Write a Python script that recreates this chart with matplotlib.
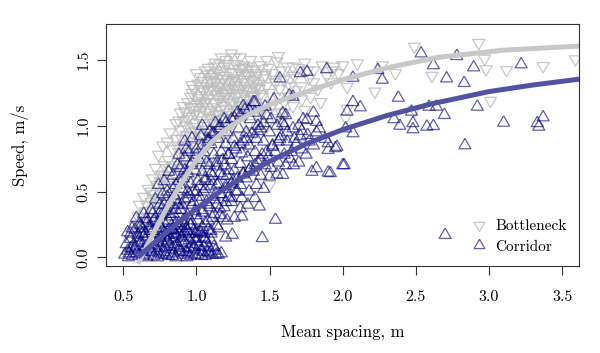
import matplotlib
matplotlib.use("Agg")
import matplotlib.pyplot as plt
from matplotlib.lines import Line2D

plt.rcParams["font.family"] = ["cmr10", "DejaVu Serif"]
plt.rcParams["mathtext.fontset"] = "cm"
plt.rcParams["axes.formatter.use_mathtext"] = True

# ---- Bottleneck (grey, downward triangles) ----
bottleneck_x = [
    0.58, 0.60, 0.61, 0.63, 0.64, 0.65,
    0.67, 0.68, 0.69, 0.70, 0.71, 0.72, 0.70,
    0.73, 0.74, 0.75, 0.76, 0.77, 0.78, 0.78,
    0.79, 0.80, 0.81, 0.82, 0.83, 0.83, 0.84,
    0.85, 0.86, 0.86, 0.87, 0.88, 0.88, 0.89, 0.89,
    0.90, 0.91, 0.91, 0.92, 0.92, 0.93, 0.94, 0.94, 0.93,
    0.95, 0.95, 0.96, 0.96, 0.97, 0.97, 0.98, 0.98, 0.99, 0.99,
    1.00, 1.00, 1.01, 1.01, 1.02, 1.02, 1.03, 1.03, 1.04, 1.04, 1.03,
    1.05, 1.05, 1.06, 1.06, 1.07, 1.07, 1.08, 1.08, 1.09, 1.09, 1.08, 1.06,
    1.10, 1.10, 1.11, 1.11, 1.12, 1.12, 1.13, 1.13, 1.14, 1.14, 1.12, 1.11, 1.13,
    1.15, 1.15, 1.16, 1.16, 1.17, 1.17, 1.18, 1.18, 1.19, 1.19, 1.16, 1.18, 1.17,
    1.20, 1.20, 1.21, 1.21, 1.22, 1.22, 1.23, 1.23, 1.24, 1.24, 1.21, 1.23,
    1.25, 1.25, 1.26, 1.26, 1.27, 1.27, 1.28, 1.28, 1.29, 1.29,
    1.30, 1.30, 1.31, 1.31, 1.32, 1.32, 1.33, 1.33, 1.34, 1.34,
    1.35, 1.36, 1.36, 1.37, 1.38, 1.38, 1.39, 1.37,
    1.40, 1.41, 1.42, 1.43, 1.44, 1.45, 1.46, 1.47, 1.48, 1.49,
    1.50, 1.52, 1.54, 1.55, 1.57, 1.58, 1.60, 1.62, 1.64, 1.63,
    1.67, 1.70, 1.72, 1.74, 1.77, 1.80, 1.83, 1.86, 1.89, 1.92, 1.94, 1.97, 1.78, 1.85, 1.66, 1.93,
    1.20, 1.25, 1.30, 1.35, 1.40, 1.15, 1.45, 1.10, 1.05, 1.00, 0.95,
    0.78, 0.85, 0.92, 0.88, 1.50,
    # blob centre
    0.97, 1.00, 1.03, 1.06, 1.09, 1.12, 1.15, 1.18, 1.21, 1.24, 1.27, 1.30, 1.33, 1.36, 1.39, 1.42,
    0.98, 1.01, 1.04, 1.07, 1.10, 1.13, 1.16, 1.19, 1.22, 1.25, 1.28, 1.31, 1.34, 1.37, 1.40, 1.43,
    0.96, 0.99, 1.02, 1.05, 1.08, 1.11, 1.14, 1.17, 1.20, 1.23, 1.26, 1.29, 1.32, 1.35, 1.38, 1.41, 1.44,
    0.88, 0.91, 0.94, 0.97, 1.00, 1.04, 1.08, 1.12, 1.16, 1.20, 1.26, 1.32, 1.40, 1.48, 1.56,
    0.63, 0.66, 0.69, 0.72, 0.75, 0.78, 0.81, 0.84, 0.87, 0.90, 0.93, 0.96, 0.99, 1.02, 1.05, 1.08,
    1.52, 1.56, 1.60, 1.64, 1.68, 1.72, 1.76, 1.80, 1.53, 1.58, 1.66, 1.74,
    1.36, 1.42, 1.48, 1.54, 1.60, 1.38, 1.46, 1.52, 1.58,
    # sparse right region
    2.00, 2.03, 2.03, 2.02, 2.10, 2.22, 2.27, 2.36, 2.49, 2.49, 2.61,
    2.93, 2.97, 2.98, 3.01, 3.12, 3.37, 3.59,
]
bottleneck_y = [
    0.24, 0.31, 0.40, 0.27, 0.46, 0.35,
    0.52, 0.30, 0.42, 0.60, 0.48, 0.68, 0.36,
    0.55, 0.78, 0.44, 0.63, 0.85, 0.52, 0.70,
    0.60, 0.88, 0.74, 0.95, 0.55, 0.66, 0.82,
    0.62, 0.90, 1.02, 0.72, 0.80, 0.58, 0.97, 1.10,
    0.68, 0.85, 1.04, 1.11, 0.76, 0.93, 1.18, 0.62, 1.00,
    0.80, 1.07, 1.22, 0.70, 0.95, 1.14, 0.88, 1.28, 1.02, 0.75,
    1.16, 0.84, 1.32, 0.97, 1.08, 1.23, 0.78, 1.37, 0.92, 1.19, 1.04,
    1.26, 1.00, 1.42, 0.86, 1.12, 1.30, 0.95, 1.21, 1.35, 1.06, 1.44, 1.17,
    1.10, 1.28, 0.90, 1.40, 1.18, 1.02, 1.33, 1.48, 1.24, 0.97, 1.37, 1.14, 1.08,
    1.20, 1.42, 1.05, 1.30, 1.52, 0.93, 1.15, 1.36, 1.26, 1.45, 1.12, 1.00, 1.33,
    1.22, 1.38, 1.08, 1.47, 1.29, 0.98, 1.17, 1.41, 1.33, 1.55, 1.25, 1.10,
    1.18, 1.40, 1.28, 1.05, 1.47, 1.22, 1.35, 1.12, 1.43, 1.25,
    1.30, 1.52, 1.15, 1.38, 1.24, 1.44, 1.08, 1.33, 1.20, 1.40,
    1.27, 1.45, 1.12, 1.35, 1.22, 1.42, 1.30, 1.50,
    1.38, 1.18, 1.40, 1.28, 1.46, 1.22, 1.36, 1.385, 1.30, 1.44,
    1.25, 1.40, 1.33, 1.49, 1.28, 1.42, 1.35, 1.45, 1.30, 1.22,
    1.38, 1.44, 1.30, 1.48, 1.36, 1.42, 1.28, 1.46, 1.38, 1.33, 1.45, 1.40, 1.22, 1.18, 1.15, 1.42,
    0.88, 0.80, 0.92, 0.85, 0.95, 0.75, 1.02, 0.72, 0.70, 0.65, 0.58,
    0.35, 0.45, 0.50, 0.38, 0.55,
    1.25, 1.12, 1.30, 1.18, 1.02, 1.27, 1.09, 1.24, 1.35, 1.05, 1.31, 1.19, 1.28, 1.16, 1.23, 1.32,
    0.99, 1.21, 1.14, 0.97, 1.34, 1.17, 1.38, 1.06, 1.20, 1.34, 1.09, 1.44, 1.15, 1.26, 1.34, 1.12,
    1.14, 1.09, 1.17, 1.34, 1.27, 1.05, 1.29, 1.22, 1.13, 1.27, 1.36, 1.16, 1.35, 1.39, 1.17, 1.29, 1.24,
    1.04, 1.15, 1.05, 1.31, 1.40, 1.28, 1.39, 1.45, 1.47, 1.50, 1.52, 1.46, 1.43, 1.50, 1.53,
    0.30, 0.40, 0.50, 0.45, 0.58, 0.62, 0.68, 0.70, 0.85, 0.90, 0.84, 0.92, 0.96, 0.88, 0.92, 0.86,
    1.15, 1.22, 1.18, 1.36, 1.27, 1.20, 1.42, 1.33, 1.35, 1.10, 1.45, 1.12,
    1.02, 1.08, 1.00, 1.06, 1.10, 0.96, 1.12, 1.17, 1.04,
    1.46, 1.297, 1.13, 1.06, 1.475, 1.26, 1.46, 1.40, 1.60, 1.12, 1.38,
    1.63, 1.51, 1.43, 1.19, 1.424, 1.454, 1.505,
]

# ---- Corridor (blue, upward triangles) ----
corridor_x = [
    # dense bottom band
    0.51, 0.56, 0.61, 0.66, 0.71, 0.76, 0.81, 0.86, 0.91, 0.96, 1.01, 1.06, 1.11, 1.15,
    0.53, 0.58, 0.63, 0.68, 0.73, 0.78, 0.83, 0.88, 0.93, 0.98, 1.03, 1.08, 1.13,
    0.52, 0.57, 0.62, 0.67, 0.72, 0.77, 0.82, 0.87, 0.92, 0.97, 1.02, 1.07, 1.12,
    0.55, 0.60, 0.65, 0.70, 0.75, 0.80, 0.85, 0.90, 0.95, 1.00, 1.05, 1.10,
    0.54, 0.59, 0.64, 0.69, 0.74, 0.79, 0.84, 0.89, 0.94, 0.99, 1.04, 1.09,
    0.55, 0.65, 0.75, 0.85, 0.95, 1.05, 0.60, 0.70, 0.80, 0.90, 1.00,
    0.53, 0.58, 0.63, 0.68, 0.73, 0.78, 0.83, 0.88, 0.93, 0.98, 1.03, 1.08,
    0.535, 0.585, 0.635, 0.685, 0.735, 0.785, 0.835, 0.885, 0.935, 0.985, 1.035, 1.085, 1.135, 1.17,
    0.74, 0.78, 0.82, 0.86, 0.90, 0.94, 0.98, 1.02, 1.06, 1.10, 1.14, 1.18,
    # rising wedge
    0.55, 0.56,
    0.60, 0.61, 0.59,
    0.65, 0.66, 0.64, 0.63,
    0.70, 0.71, 0.69, 0.72, 0.68,
    0.75, 0.74, 0.76, 0.75, 0.77, 0.74,
    0.80, 0.81, 0.79, 0.82, 0.80, 0.78, 0.81, 0.83,
    0.85, 0.86, 0.84, 0.87, 0.85, 0.86, 0.84, 0.87, 0.88,
    0.90, 0.91, 0.89, 0.92, 0.90, 0.91, 0.89, 0.92, 0.93, 0.92,
    0.95, 0.96, 0.94, 0.97, 0.95, 0.96, 0.94, 0.97, 0.95, 0.97,
    1.00, 1.01, 0.99, 1.02, 1.00, 1.01, 0.99, 1.02, 1.00, 1.03, 1.04,
    1.05, 1.06, 1.04, 1.07, 1.05, 1.06, 1.04, 1.07, 1.05, 1.08, 1.11,
    1.10, 1.11, 1.09, 1.12, 1.10, 1.11, 1.09, 1.12, 1.10, 1.09, 1.13,
    1.15, 1.16, 1.14, 1.17, 1.15, 1.16, 1.14, 1.17, 1.15, 1.16,
    1.20, 1.21, 1.19, 1.22, 1.20, 1.21, 1.19, 1.22, 1.20, 1.21, 1.19,
    1.245, 1.26, 1.24, 1.27, 1.25, 1.26, 1.24, 1.27, 1.25, 1.26, 1.29,
    1.31, 1.30, 1.31, 1.30, 1.32, 1.30, 1.31, 1.32, 1.30, 1.33,
    1.35, 1.36, 1.34, 1.37, 1.35, 1.36, 1.34, 1.37, 1.39,
    1.40, 1.41, 1.39, 1.42, 1.40, 1.41, 1.42, 1.40,
    1.45, 1.43, 1.46, 1.44, 1.47, 1.45, 1.46, 1.44, 1.48, 1.47,
    1.50, 1.51, 1.49, 1.52, 1.50, 1.51, 1.53,
    1.54, 1.55, 1.56, 1.54, 1.57, 1.55, 1.59, 1.57,
    1.59, 1.61, 1.60, 1.62, 1.60, 1.59, 1.61,
    1.665, 1.65, 1.67, 1.66, 1.635,
    1.70, 1.72, 1.71, 1.73, 1.71,
    1.75, 1.77, 1.756, 1.756,
    1.79, 1.82, 1.80, 1.82, 1.82,
    1.90, 1.90, 1.90, 1.89, 1.88,
    0.72, 0.76, 0.80, 0.84, 0.88, 0.92, 0.96, 1.00, 1.04, 1.08, 1.12, 1.16, 1.20, 1.24, 1.28, 1.32, 1.36, 1.40,
    0.78, 0.82, 0.86, 0.90, 0.94, 0.98, 1.02, 1.06, 1.10, 1.14, 1.18, 1.22, 1.26, 1.30, 1.34, 1.38, 1.42, 1.46,
    0.88, 0.92, 0.96, 1.00, 1.04, 1.08, 1.12, 1.16, 1.20, 1.24, 1.28, 1.32, 1.36, 1.40, 1.44, 1.48, 1.52, 1.56,
    0.62, 0.66, 0.70, 0.74, 0.78, 0.82, 0.86, 0.90, 0.94, 0.98, 1.02, 1.06, 1.10, 1.14, 1.18, 1.22,
    0.64, 0.68, 0.72, 0.76, 0.80, 0.84, 0.88, 0.92, 0.96, 1.00, 1.04, 1.08, 1.12, 1.16, 1.20, 1.24, 1.28,
    1.58, 1.62, 1.66, 1.70, 1.64, 1.68, 1.72, 1.76, 1.80, 1.84,
    1.96, 2.00, 1.95, 1.915, 2.01, 2.02, 2.03, 2.07, 2.07, 2.07, 2.12,
    # sparse right region
    2.536, 2.78, 2.62, 2.895, 3.22, 2.24, 2.27, 2.71, 2.83,
    2.38, 2.47, 2.59, 2.64, 2.695, 2.92, 2.35, 2.39, 2.48, 2.48,
    2.575, 2.62, 3.10, 3.33, 3.37, 3.34, 2.835, 2.70,
]
corridor_y = [
    0.02, 0.01, 0.02, 0.00, 0.01, 0.02, 0.01, 0.00, 0.02, 0.01, 0.02, 0.01, 0.02, 0.02,
    0.05, 0.06, 0.04, 0.06, 0.05, 0.04, 0.06, 0.05, 0.04, 0.06, 0.05, 0.04, 0.05,
    0.10, 0.09, 0.11, 0.10, 0.09, 0.11, 0.10, 0.09, 0.11, 0.10, 0.09, 0.11, 0.08,
    0.14, 0.15, 0.13, 0.14, 0.15, 0.13, 0.14, 0.15, 0.13, 0.14, 0.15, 0.13,
    0.03, 0.03, 0.02, 0.04, 0.03, 0.02, 0.03, 0.04, 0.03, 0.02, 0.04, 0.03,
    0.07, 0.08, 0.07, 0.08, 0.07, 0.08, 0.12, 0.12, 0.12, 0.12, 0.12,
    0.19, 0.21, 0.18, 0.22, 0.20, 0.19, 0.21, 0.18, 0.22, 0.20, 0.19, 0.21,
    0.00, 0.08, 0.01, 0.07, 0.00, 0.08, 0.01, 0.07, 0.00, 0.08, 0.01, 0.07, 0.02, 0.03,
    0.12, 0.16, 0.15, 0.17, 0.16, 0.20, 0.15, 0.19, 0.14, 0.18, 0.24, 0.30,
    0.18, 0.22,
    0.17, 0.25, 0.30,
    0.18, 0.26, 0.33, 0.22,
    0.20, 0.28, 0.36, 0.44, 0.24,
    0.18, 0.25, 0.32, 0.40, 0.48, 0.55,
    0.20, 0.28, 0.35, 0.42, 0.50, 0.58, 0.65, 0.24,
    0.18, 0.26, 0.33, 0.40, 0.47, 0.55, 0.62, 0.70, 0.78,
    0.20, 0.28, 0.36, 0.44, 0.52, 0.60, 0.68, 0.76, 0.82, 0.88,
    0.18, 0.25, 0.32, 0.40, 0.48, 0.56, 0.64, 0.72, 0.80, 0.905,
    0.20, 0.28, 0.35, 0.42, 0.50, 0.58, 0.66, 0.74, 0.82, 0.92, 1.00,
    0.18, 0.26, 0.34, 0.42, 0.50, 0.58, 0.65, 0.72, 0.80, 0.88, 0.94,
    0.20, 0.30, 0.38, 0.46, 0.54, 0.62, 0.70, 0.78, 0.86, 0.955, 1.02,
    0.22, 0.32, 0.40, 0.48, 0.56, 0.64, 0.72, 0.80, 0.90, 1.00,
    0.15, 0.28, 0.38, 0.46, 0.54, 0.62, 0.70, 0.78, 0.86, 0.95, 1.05,
    0.171, 0.30, 0.42, 0.50, 0.58, 0.66, 0.74, 0.82, 0.90, 1.06, 0.98,
    0.31, 0.373, 0.45, 0.55, 0.63, 0.71, 0.79, 0.88, 1.08, 1.12,
    0.40, 0.50, 0.60, 0.68, 0.76, 0.85, 0.95, 1.05, 1.18,
    0.45, 0.55, 0.65, 0.72, 0.80, 0.90, 1.00, 1.10,
    0.146, 0.386, 0.52, 0.62, 0.70, 0.78, 0.88, 0.98, 1.08, 1.145,
    0.614, 0.68, 0.76, 0.85, 0.95, 1.05, 1.20,
    0.285, 0.63, 0.72, 0.80, 0.90, 1.00, 1.095, 1.36,
    0.626, 0.70, 0.78, 0.88, 1.00, 1.02, 1.08,
    0.70, 0.80, 0.90, 1.22, 1.23,
    0.72, 0.82, 0.92, 1.05, 1.40,
    0.78, 0.88, 1.044, 1.41,
    0.65, 0.677, 0.85, 0.95, 1.03,
    0.644, 0.816, 0.867, 1.43, 0.90,
    0.30, 0.36, 0.46, 0.52, 0.58, 0.66, 0.70, 0.78, 0.85, 0.90, 0.94, 0.98, 1.02, 1.05, 1.10, 1.15, 1.12, 1.18,
    0.26, 0.31, 0.36, 0.40, 0.45, 0.50, 0.54, 0.60, 0.64, 0.69, 0.74, 0.78, 0.84, 0.86, 0.90, 0.94, 0.96, 1.02,
    0.22, 0.24, 0.28, 0.32, 0.36, 0.40, 0.44, 0.48, 0.52, 0.56, 0.60, 0.64, 0.66, 0.70, 0.74, 0.80, 0.84, 0.88,
    0.24, 0.29, 0.33, 0.27, 0.40, 0.33, 0.44, 0.36, 0.50, 0.42, 0.46, 0.52, 0.58, 0.55, 0.62, 0.66,
    0.16, 0.20, 0.18, 0.22, 0.17, 0.21, 0.26, 0.19, 0.24, 0.18, 0.23, 0.28, 0.33, 0.37, 0.42, 0.45, 0.50,
    0.92, 0.95, 0.98, 1.00, 0.75, 0.86, 0.96, 0.93, 1.10, 0.98,
    0.84, 0.70, 0.83, 0.64, 0.70, 0.98, 1.107, 0.943, 1.18, 1.365, 1.14,
    1.55, 1.53, 1.46, 1.444, 1.467, 1.424, 1.35, 1.36, 1.325,
    1.213, 1.107, 1.145, 1.145, 1.082, 1.145, 1.05, 1.00, 1.02, 0.973,
    0.993, 0.998, 1.023, 1.02, 1.064, 0.993, 0.852, 0.17,
]

# ---- fitted curves ----
bottleneck_fit_x = [0.60, 0.70, 0.80, 0.90, 1.00, 1.10, 1.20, 1.35, 1.50, 1.70, 2.00, 2.30, 2.65, 3.10, 3.62]
bottleneck_fit_y = [-0.05, 0.17, 0.38, 0.57, 0.74, 0.87, 0.97, 1.08, 1.16, 1.24, 1.35, 1.44, 1.52, 1.575, 1.606]
corridor_fit_x = [0.60, 0.70, 0.80, 0.90, 1.00, 1.15, 1.30, 1.50, 1.75, 2.00, 2.30, 2.60, 3.00, 3.30, 3.62]
corridor_fit_y = [0.0, 0.10, 0.195, 0.285, 0.37, 0.49, 0.60, 0.73, 0.862, 0.971, 1.077, 1.165, 1.26, 1.31, 1.355]

grey = (0.745, 0.745, 0.745, 0.85)
navy = (0.0, 0.0, 0.5, 0.62)

up_tri = [(0, 1), (-0.866, -0.5), (0.866, -0.5), (0, 1)]
down_tri = [(0, -1), (-0.866, 0.5), (0.866, 0.5), (0, -1)]

fig = plt.figure(figsize=(6, 3.53), dpi=100)
ax = fig.add_axes([0.1772, 0.2465, 0.788, 0.6856])

ax.scatter(bottleneck_x, bottleneck_y, marker=down_tri, s=100, facecolors="none",
           edgecolors=[grey], linewidths=0.9)
ax.scatter(corridor_x, corridor_y, marker=up_tri, s=100, facecolors="none",
           edgecolors=[navy], linewidths=0.9)

ax.plot(bottleneck_fit_x, bottleneck_fit_y, color="#C8C8C8", lw=3.6, solid_capstyle="butt")
ax.plot(corridor_fit_x, corridor_fit_y, color="#5252A2", lw=3.6, solid_capstyle="butt")

ax.set_xlim(0.384, 3.616)
ax.set_ylim(-0.066, 1.774)
ax.set_xticks([0.5, 1.0, 1.5, 2.0, 2.5, 3.0, 3.5])
ax.set_yticks([0.0, 0.5, 1.0, 1.5])
ax.set_xticklabels(["0.5", "1.0", "1.5", "2.0", "2.5", "3.0", "3.5"])
ax.set_yticklabels(["0.0", "0.5", "1.0", "1.5"], rotation=90, va="center")
ax.tick_params(length=6.5, width=0.8, labelsize=11.5, color="#333333")
ax.tick_params(axis="x", pad=11)
ax.tick_params(axis="y", pad=5)
for s in ax.spines.values():
    s.set_color("#333333")
    s.set_linewidth(0.8)

ax.set_xlabel("Mean spacing, m", fontsize=12, labelpad=15)
ax.set_ylabel("Speed, m/s", fontsize=12, labelpad=34)

handles = [
    Line2D([], [], ls="none", marker=down_tri, ms=9, mfc="none", mec=grey, mew=0.9),
    Line2D([], [], ls="none", marker=up_tri, ms=9, mfc="none", mec=navy, mew=0.9),
]
ax.legend(handles, ["Bottleneck", "Corridor"], loc="lower right", frameon=False,
          fontsize=11, handlelength=1.0, handletextpad=0.6, labelspacing=0.45,
          borderaxespad=0.4)

fig.savefig("out.png", dpi=100)
